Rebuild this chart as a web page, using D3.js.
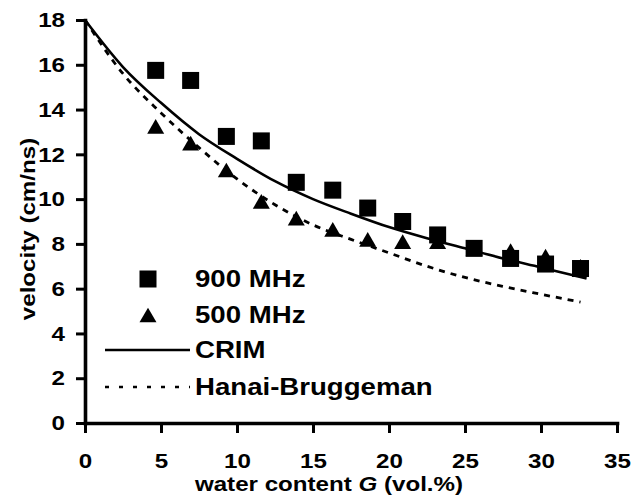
<!DOCTYPE html>
<html lang="en">
<head>
<meta charset="UTF-8">
<title>velocity vs water content</title>
<script src="https://cdn.jsdelivr.net/npm/d3@7"></script>
<style>
  body { margin: 0; background: #fff; }
  svg { display: block; background: #fff; }
  text { font-family: "Liberation Sans", Arial, Helvetica, sans-serif; font-weight: bold; fill: #000; }
</style>
</head>
<body>
<script>
// measured points (same water contents for both frequencies)
const waterContent = [4.65, 6.95, 9.3, 11.6, 13.9, 16.3, 18.6, 20.9, 23.2, 25.6, 28.0, 30.3, 32.6];
const v900 = [15.75, 15.3, 12.8, 12.6, 10.75, 10.4, 9.6, 9.0, 8.4, 7.8, 7.35, 7.1, 6.9];
const v500 = [13.25, 12.5, 11.3, 9.9, 9.15, 8.65, 8.2, 8.1, 8.1, 7.8, 7.7, 7.45, 7.0];

// model curves
const crimG = [0, 2.5, 5, 7.5, 10, 12.5, 15, 17.5, 20, 22.5, 25, 27.5, 30, 33];
const crimV = [18.0, 15.9, 14.3, 12.9, 11.8, 10.8, 10.0, 9.35, 8.75, 8.25, 7.8, 7.35, 6.95, 6.45];
const hbG = [0, 2.5, 5, 7.5, 10, 12.5, 15, 17.5, 20, 22.5, 25, 27.5, 30, 32.6];
const hbV = [18.0, 15.6, 13.85, 12.3, 10.9, 9.75, 8.85, 8.2, 7.6, 7.0, 6.5, 6.1, 5.75, 5.4];

const xTicks = [0, 5, 10, 15, 20, 25, 30, 35];
const yTicks = [0, 2, 4, 6, 8, 10, 12, 14, 16, 18];
const legendLabels = ['900 MHz', '500 MHz', 'CRIM', 'Hanai-Bruggeman'];

const width = 635;
const height = 502;
const stretch = 1.15; // the source lettering is a bit wider than Arial

const svg = d3.select('body').append('svg')
  .attr('width', width)
  .attr('height', height);

const x = d3.scaleLinear().domain([0, 35]).range([85, 617]);
const y = d3.scaleLinear().domain([0, 18]).range([423, 20]);

// curves
const line = d3.line()
  .x(d => x(d[0]))
  .y(d => y(d[1]))
  .curve(d3.curveMonotoneX);

svg.append('path')
  .datum(hbG.map((g, i) => [g, hbV[i]]))
  .attr('d', line)
  .attr('fill', 'none')
  .attr('stroke', '#000')
  .attr('stroke-width', 2.8)
  .attr('stroke-dasharray', '6,6');

svg.append('path')
  .datum(crimG.map((g, i) => [g, crimV[i]]))
  .attr('d', line)
  .attr('fill', 'none')
  .attr('stroke', '#000')
  .attr('stroke-width', 2.6);

// markers
const sq = 17;
const triSize = 125;
const triA = Math.sqrt(triSize / (3 * Math.sqrt(3)));
const tri = d3.symbol().type(d3.symbolTriangle).size(triSize);

svg.append('g').selectAll('path')
  .data(waterContent.map((g, i) => [g, v500[i]]))
  .join('path')
  .attr('d', tri)
  .attr('transform', d => 'translate(' + x(d[0]) + ',' + (y(d[1]) + triA / 2) + ')')
  .attr('fill', '#000');

svg.append('g').selectAll('rect')
  .data(waterContent.map((g, i) => [g, v900[i]]))
  .join('rect')
  .attr('x', d => x(d[0]) - sq / 2)
  .attr('y', d => y(d[1]) - sq / 2)
  .attr('width', sq)
  .attr('height', sq)
  .attr('fill', '#000');

// axes
const xAxis = d3.axisBottom(x).tickValues(xTicks).tickSize(10).tickSizeOuter(0).tickPadding(20);
const yAxis = d3.axisLeft(y).tickValues(yTicks).tickSize(9).tickSizeOuter(0).tickPadding(11);

const gx = svg.append('g')
  .attr('transform', 'translate(0,' + y(0) + ')')
  .call(xAxis);
const gy = svg.append('g')
  .attr('transform', 'translate(' + x(0) + ',0)')
  .call(yAxis);

[gx, gy].forEach(g => {
  g.select('.domain').attr('stroke-width', 3.6).attr('stroke-linecap', 'square');
  g.selectAll('.tick line').attr('stroke-width', 3);
  g.selectAll('.tick text')
    .attr('font-size', 21)
    .attr('font-family', null)
    .attr('transform', 'scale(' + stretch + ',1)');
});
gy.selectAll('.tick text').attr('x', -20 / stretch);

// axis titles
svg.append('text')
  .attr('transform', 'translate(35,229) rotate(-90) scale(' + stretch + ',1)')
  .attr('text-anchor', 'middle')
  .attr('font-size', 21)
  .text('velocity (cm/ns)');

const xt = svg.append('text')
  .attr('transform', 'translate(329,491) scale(' + stretch + ',1)')
  .attr('text-anchor', 'middle')
  .attr('font-size', 21);
xt.append('tspan').text('water content ');
xt.append('tspan').attr('font-style', 'italic').text('G');
xt.append('tspan').text(' (vol.%)');

// legend
const legend = svg.append('g');
const rows = [279, 315, 350, 387];

legend.append('rect')
  .attr('x', 148 - sq / 2).attr('y', rows[0] - sq / 2)
  .attr('width', sq).attr('height', sq).attr('fill', '#000');
legend.append('path')
  .attr('d', tri)
  .attr('transform', 'translate(148,' + (rows[1] + triA / 2) + ')')
  .attr('fill', '#000');
legend.append('line')
  .attr('x1', 105).attr('x2', 190).attr('y1', rows[2]).attr('y2', rows[2])
  .attr('stroke', '#000').attr('stroke-width', 2.6);
legend.append('line')
  .attr('x1', 105).attr('x2', 190).attr('y1', rows[3]).attr('y2', rows[3])
  .attr('stroke', '#000').attr('stroke-width', 2.6)
  .attr('stroke-dasharray', '4,10');

legend.selectAll('text')
  .data(legendLabels)
  .join('text')
  .attr('transform', (d, i) => 'translate(195,' + (rows[i] + 8) + ') scale(' + stretch + ',1)')
  .attr('font-size', 24)
  .text(d => d);
</script>
</body>
</html>
